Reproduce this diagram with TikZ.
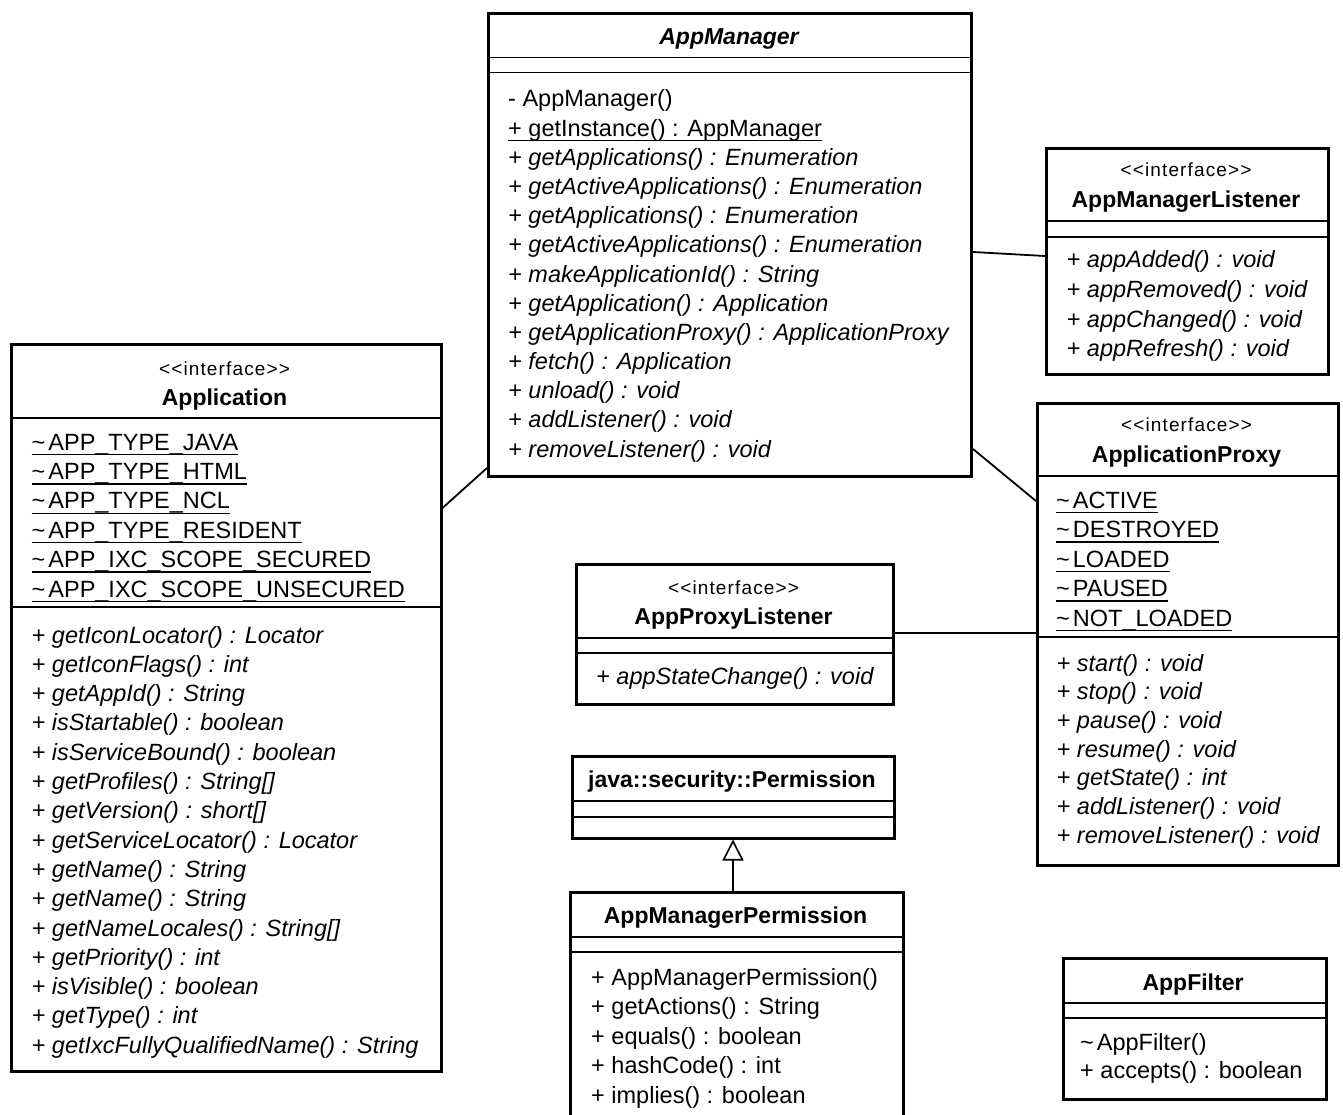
\documentclass[tikz,border=0pt]{standalone}
\usepackage{fontspec}
\setmainfont{Liberation Sans}
\usetikzlibrary{arrows.meta}
\tikzset{
  cls/.style={draw, line width=3pt, fill=white, inner sep=0pt, anchor=north west},
  sepline/.style={line width=1.6pt},
  conn/.style={line width=1.8pt},
  ulline/.style={line width=1.3pt},
  txt/.style={anchor=base west, inner sep=0pt, font=\fontsize{23.5}{29.4}\selectfont},
  itxt/.style={txt, font=\fontsize{23.5}{29.4}\selectfont\itshape},
  ttl/.style={anchor=base, inner sep=0pt, font=\fontsize{23}{28}\selectfont\bfseries},
  ster/.style={anchor=base, inner sep=0pt, font=\fontsize{19}{24}\selectfont\addfontfeature{LetterSpace=6}},
}
\newcommand\stereo{{<}{<}interface{>}{>}}
% #1 name prefix, #2 x, #3 first baseline, #4 step, #5 style, #6 list
\newcommand\umllines[6]{\foreach \t [count=\i from 0] in {#6} {\node[#5] (#1\i) at (#2,{#3+#4*\i}) {\t};}}
\newcommand\umlullines[6]{\foreach \t [count=\i from 0] in {#6} {\node[#5] (#1\i) at (#2,{#3+#4*\i}) {\t};
  \draw[ulline] ([yshift=-4.5pt]#1\i.base west) -- ([yshift=-4.5pt]#1\i.base east);}}
\begin{document}
\begin{tikzpicture}[x=1pt,y=-1pt]
\useasboundingbox (0,0) rectangle (1343,1115);
\fill[white] (0,0) rectangle (1343,1115);
\clip (0,0) rectangle (1343,1115);

% ---------- AppManager ----------
\node[cls, minimum width=483pt, minimum height=462pt] (AppManager) at (487,12.5) {};
\draw[sepline] (AppManager.west |- 0,57.5) -- (AppManager.east |- 0,57.5);
\draw[sepline] (AppManager.west |- 0,72.5) -- (AppManager.east |- 0,72.5);
\node[ttl, font=\fontsize{23}{28}\selectfont\bfseries\itshape] (amT) at (729,45) {AppManager};
\umllines{amc}{508}{107}{29.17}{txt}{- AppManager()}
\umlullines{ams}{508}{136.17}{29.17}{txt}{+ getInstance() : AppManager}
\umllines{amm}{508}{165.34}{29.17}{itxt}{+ getApplications() : Enumeration, + getActiveApplications() : Enumeration, + getApplications() : Enumeration, + getActiveApplications() : Enumeration, + makeApplicationId() : String, + getApplication() : Application, + getApplicationProxy() : ApplicationProxy, + fetch() : Application, + unload() : void, + addListener() : void, + removeListener() : void}

% ---------- Application ----------
\node[cls, minimum width=430pt, minimum height=727pt] (Application) at (9.5,343) {};
\draw[sepline] (Application.west |- 0,418) -- (Application.east |- 0,418);
\draw[sepline] (Application.west |- 0,607) -- (Application.east |- 0,607);
\node[ster] (apS) at (224.5,375) {\stereo};
\node[ttl] (apT) at (224.5,405) {Application};
\umlullines{apa}{31.5}{450}{29.4}{txt}{\textasciitilde\hspace{3pt}APP\_TYPE\_JAVA, \textasciitilde\hspace{3pt}APP\_TYPE\_HTML, \textasciitilde\hspace{3pt}APP\_TYPE\_NCL, \textasciitilde\hspace{3pt}APP\_TYPE\_RESIDENT, \textasciitilde\hspace{3pt}APP\_IXC\_SCOPE\_SECURED, \textasciitilde\hspace{3pt}APP\_IXC\_SCOPE\_UNSECURED}
\umllines{apm}{31.5}{643}{29.3}{itxt}{+ getIconLocator() : Locator, + getIconFlags() : int, + getAppId() : String, + isStartable() : boolean, + isServiceBound() : boolean, + getProfiles() : String[], + getVersion() : short[], + getServiceLocator() : Locator, + getName() : String, + getName() : String, + getNameLocales() : String[], + getPriority() : int, + isVisible() : boolean, + getType() : int, + getIxcFullyQualifiedName() : String}

% ---------- AppManagerListener ----------
\node[cls, minimum width=282pt, minimum height=226pt] (AppManagerListener) at (1045,147) {};
\draw[sepline] (AppManagerListener.west |- 0,221) -- (AppManagerListener.east |- 0,221);
\draw[sepline] (AppManagerListener.west |- 0,237) -- (AppManagerListener.east |- 0,237);
\node[ster] (amlS) at (1186,177) {\stereo};
\node[ttl] (amlT) at (1186,208) {AppManagerListener};
\umllines{amlm}{1066.5}{268}{29.6}{itxt}{+ appAdded() : void, + appRemoved() : void, + appChanged() : void, + appRefresh() : void}

% ---------- ApplicationProxy ----------
\node[cls, minimum width=301pt, minimum height=462pt] (ApplicationProxy) at (1036,402) {};
\draw[sepline] (ApplicationProxy.west |- 0,476) -- (ApplicationProxy.east |- 0,476);
\draw[sepline] (ApplicationProxy.west |- 0,637) -- (ApplicationProxy.east |- 0,637);
\node[ster] (apxS) at (1186.5,431) {\stereo};
\node[ttl] (apxT) at (1186.5,462) {ApplicationProxy};
\umlullines{apxa}{1056}{508}{29.5}{txt}{\textasciitilde\hspace{3pt}ACTIVE, \textasciitilde\hspace{3pt}DESTROYED, \textasciitilde\hspace{3pt}LOADED, \textasciitilde\hspace{3pt}PAUSED, \textasciitilde\hspace{3pt}NOT\_LOADED}
\umllines{apxm}{1056.5}{671}{28.7}{itxt}{+ start() : void, + stop() : void, + pause() : void, + resume() : void, + getState() : int, + addListener() : void, + removeListener() : void}

% ---------- AppProxyListener ----------
\node[cls, minimum width=317pt, minimum height=139.5pt] (AppProxyListener) at (575,563) {};
\draw[sepline] (AppProxyListener.west |- 0,638) -- (AppProxyListener.east |- 0,638);
\draw[sepline] (AppProxyListener.west |- 0,653) -- (AppProxyListener.east |- 0,653);
\node[ster] (aplS) at (733.5,594) {\stereo};
\node[ttl] (aplT) at (733.5,624) {AppProxyListener};
\umllines{aplm}{596}{684}{29.4}{itxt}{+ appStateChange() : void}

% ---------- java::security::Permission ----------
\node[cls, minimum width=322pt, minimum height=81.5pt] (Permission) at (571,755) {};
\draw[sepline] (Permission.west |- 0,801) -- (Permission.east |- 0,801);
\draw[sepline] (Permission.west |- 0,817) -- (Permission.east |- 0,817);
\node[ttl] (perT) at (732,787) {java::security::Permission};

% ---------- AppManagerPermission ----------
\node[cls, minimum width=333pt, minimum height=239pt] (AppManagerPermission) at (569,891) {};
\draw[sepline] (AppManagerPermission.west |- 0,937) -- (AppManagerPermission.east |- 0,937);
\draw[sepline] (AppManagerPermission.west |- 0,952) -- (AppManagerPermission.east |- 0,952);
\node[ttl] (ampT) at (735.5,923) {AppManagerPermission};
\umllines{ampm}{591}{985}{29.5}{txt}{+ AppManagerPermission(), + getActions() : String, + equals() : boolean, + hashCode() : int, + implies() : boolean}

% ---------- AppFilter ----------
\node[cls, minimum width=263.5pt, minimum height=141pt] (AppFilter) at (1061.5,957) {};
\draw[sepline] (AppFilter.west |- 0,1003) -- (AppFilter.east |- 0,1003);
\draw[sepline] (AppFilter.west |- 0,1018) -- (AppFilter.east |- 0,1018);
\node[ttl] (afT) at (1193,990) {AppFilter};
\umllines{afm}{1080}{1050}{28.3}{txt}{\textasciitilde\hspace{3pt}AppFilter(), + accepts() : boolean}

% ---------- connectors ----------
\draw[conn] (Application.east |- 0,508) -- (AppManager.west |- 0,468);
\draw[conn] (AppManager.east |- 0,252) -- (AppManagerListener.west |- 0,256);
\draw[conn] (AppManager.east |- 0,449) -- (ApplicationProxy.west |- 0,501);
\draw[conn] (AppProxyListener.east |- 0,633) -- (ApplicationProxy.west |- 0,633);
\draw[conn, -{Triangle[open, length=21pt, width=21pt, line width=1.6pt]}] (AppManagerPermission.north -| 733,0) -- (Permission.south -| 733,0);
\end{tikzpicture}
\end{document}
